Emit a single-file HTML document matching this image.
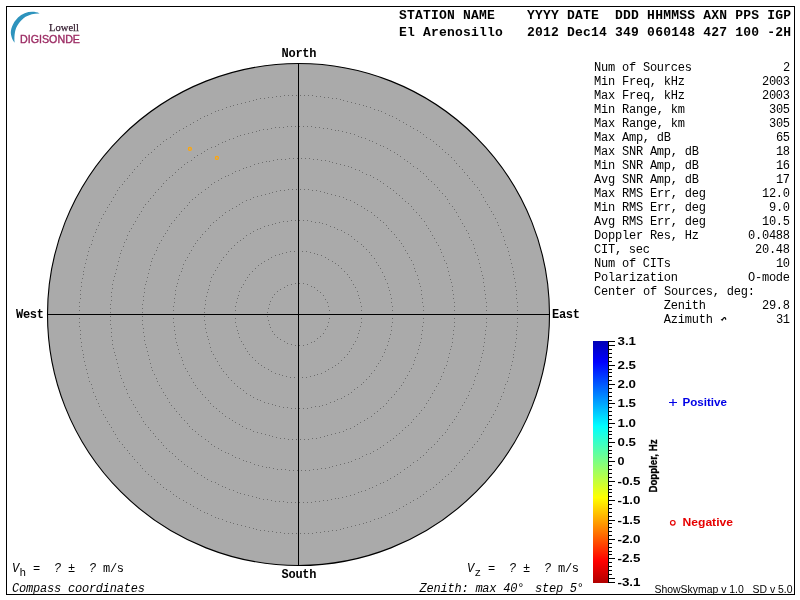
<!DOCTYPE html>
<html><head><meta charset="utf-8"><title>Skymap</title>
<style>
html,body{margin:0;padding:0;background:#fff;}
body{width:800px;height:600px;overflow:hidden;position:relative;}
svg{position:absolute;left:0;top:0;display:block;will-change:transform;}
text{white-space:pre;}
.m{font-family:"Liberation Mono",monospace;font-size:12px;fill:#000;}
.mb{font-family:"Liberation Mono",monospace;font-size:12px;font-weight:bold;fill:#000;}
.mi{font-family:"Liberation Mono",monospace;font-size:12px;font-style:italic;fill:#000;}
.h{font-family:"Liberation Mono",monospace;font-size:13px;font-weight:bold;fill:#000;}
.s{font-family:"Liberation Sans",sans-serif;font-size:10px;fill:#000;}
.sb{font-family:"Liberation Sans",sans-serif;font-size:10.5px;font-weight:bold;fill:#000;}
</style></head><body>
<svg width="800" height="600" viewBox="0 0 800 600">
<defs>
<linearGradient id="jet" x1="0" y1="0" x2="0" y2="1">
<stop offset="0" stop-color="#0000b4"/>
<stop offset="0.087" stop-color="#0000ff"/>
<stop offset="0.352" stop-color="#00ffff"/>
<stop offset="0.502" stop-color="#80ff80"/>
<stop offset="0.647" stop-color="#ffff00"/>
<stop offset="0.78" stop-color="#ff8000"/>
<stop offset="0.909" stop-color="#ff0000"/>
<stop offset="1" stop-color="#b00000"/>
</linearGradient>
</defs>
<rect x="0" y="0" width="800" height="600" fill="#fff"/>
<!-- frame -->
<rect x="6.5" y="6.5" width="788" height="588" fill="none" stroke="#000" stroke-width="1" shape-rendering="crispEdges"/>

<circle cx="298.5" cy="314.5" r="251.0" fill="#aaaaaa" stroke="#000" stroke-width="1.1"/>
<path d="M329 314.5h1M329 310.5h1M328 306.5h1M327 302.5h1M325 299.5h1M323 295.5h1M320 292.5h1M317 290.5h1M314 287.5h1M311 286.5h1M307 284.5h1M303 283.5h1M299 283.5h1M295 283.5h1M291 284.5h1M287 285.5h1M284 287.5h1M280 289.5h1M277 291.5h1M274 294.5h1M272 297.5h1M270 301.5h1M269 304.5h1M268 308.5h1M267 312.5h1M267 316.5h1M268 320.5h1M269 324.5h1M270 327.5h1M272 331.5h1M274 334.5h1M277 337.5h1M280 339.5h1M284 341.5h1M287 343.5h1M291 344.5h1M295 345.5h1M299 345.5h1M303 345.5h1M307 344.5h1M311 342.5h1M314 341.5h1M317 338.5h1M320 336.5h1M323 333.5h1M325 329.5h1M327 326.5h1M328 322.5h1M329 318.5h1M361 314.5h1M361 310.5h1M361 306.5h1M360 302.5h1M359 298.5h1M358 295.5h1M357 291.5h1M355 287.5h1M353 284.5h1M351 280.5h1M349 277.5h1M347 274.5h1M344 271.5h1M341 268.5h1M338 265.5h1M335 263.5h1M332 261.5h1M328 259.5h1M325 257.5h1M321 255.5h1M317 254.5h1M314 253.5h1M310 252.5h1M306 251.5h1M302 251.5h1M298 251.5h1M294 251.5h1M290 251.5h1M286 252.5h1M282 253.5h1M279 254.5h1M275 255.5h1M271 257.5h1M268 259.5h1M264 261.5h1M261 263.5h1M258 265.5h1M255 268.5h1M252 271.5h1M249 274.5h1M247 277.5h1M245 280.5h1M243 284.5h1M241 287.5h1M239 291.5h1M238 295.5h1M237 298.5h1M236 302.5h1M235 306.5h1M235 310.5h1M235 314.5h1M235 318.5h1M235 322.5h1M236 326.5h1M237 330.5h1M238 333.5h1M239 337.5h1M241 341.5h1M243 344.5h1M245 348.5h1M247 351.5h1M249 354.5h1M252 357.5h1M255 360.5h1M258 363.5h1M261 365.5h1M264 367.5h1M268 369.5h1M271 371.5h1M275 373.5h1M279 374.5h1M282 375.5h1M286 376.5h1M290 377.5h1M294 377.5h1M298 377.5h1M302 377.5h1M306 377.5h1M310 376.5h1M314 375.5h1M317 374.5h1M321 373.5h1M325 371.5h1M328 369.5h1M332 367.5h1M335 365.5h1M338 363.5h1M341 360.5h1M344 357.5h1M347 354.5h1M349 351.5h1M351 348.5h1M353 344.5h1M355 341.5h1M357 337.5h1M358 333.5h1M359 330.5h1M360 326.5h1M361 322.5h1M361 318.5h1M392 314.5h1M392 310.5h1M392 306.5h1M391 302.5h1M391 298.5h1M390 294.5h1M389 290.5h1M388 287.5h1M387 283.5h1M385 279.5h1M384 276.5h1M382 272.5h1M380 268.5h1M378 265.5h1M376 262.5h1M374 258.5h1M371 255.5h1M369 252.5h1M366 249.5h1M363 246.5h1M361 244.5h1M357 241.5h1M354 239.5h1M351 236.5h1M348 234.5h1M344 232.5h1M341 230.5h1M337 229.5h1M334 227.5h1M330 226.5h1M326 224.5h1M322 223.5h1M319 222.5h1M315 222.5h1M311 221.5h1M307 220.5h1M303 220.5h1M299 220.5h1M295 220.5h1M291 220.5h1M287 221.5h1M283 221.5h1M279 222.5h1M275 223.5h1M272 224.5h1M268 225.5h1M264 226.5h1M260 228.5h1M257 229.5h1M253 231.5h1M250 233.5h1M246 235.5h1M243 238.5h1M240 240.5h1M237 242.5h1M234 245.5h1M231 248.5h1M228 251.5h1M226 254.5h1M223 257.5h1M221 260.5h1M219 263.5h1M217 267.5h1M215 270.5h1M213 274.5h1M211 277.5h1M210 281.5h1M209 285.5h1M208 289.5h1M207 292.5h1M206 296.5h1M205 300.5h1M205 304.5h1M204 308.5h1M204 312.5h1M204 316.5h1M204 320.5h1M205 324.5h1M205 328.5h1M206 332.5h1M207 336.5h1M208 339.5h1M209 343.5h1M210 347.5h1M211 351.5h1M213 354.5h1M215 358.5h1M217 361.5h1M219 365.5h1M221 368.5h1M223 371.5h1M226 374.5h1M228 377.5h1M231 380.5h1M234 383.5h1M237 386.5h1M240 388.5h1M243 390.5h1M246 393.5h1M250 395.5h1M253 397.5h1M257 399.5h1M260 400.5h1M264 402.5h1M268 403.5h1M272 404.5h1M275 405.5h1M279 406.5h1M283 407.5h1M287 407.5h1M291 408.5h1M295 408.5h1M299 408.5h1M303 408.5h1M307 408.5h1M311 407.5h1M315 406.5h1M319 406.5h1M322 405.5h1M326 404.5h1M330 402.5h1M334 401.5h1M337 399.5h1M341 398.5h1M344 396.5h1M348 394.5h1M351 392.5h1M354 389.5h1M357 387.5h1M361 384.5h1M363 382.5h1M366 379.5h1M369 376.5h1M371 373.5h1M374 370.5h1M376 366.5h1M378 363.5h1M380 360.5h1M382 356.5h1M384 352.5h1M385 349.5h1M387 345.5h1M388 341.5h1M389 338.5h1M390 334.5h1M391 330.5h1M391 326.5h1M392 322.5h1M392 318.5h1M423 314.5h1M423 310.5h1M423 306.5h1M422 302.5h1M422 298.5h1M421 294.5h1M421 290.5h1M420 286.5h1M419 283.5h1M418 279.5h1M417 275.5h1M415 271.5h1M414 268.5h1M413 264.5h1M411 260.5h1M409 257.5h1M407 253.5h1M405 250.5h1M403 246.5h1M401 243.5h1M399 240.5h1M396 237.5h1M394 234.5h1M391 231.5h1M388 228.5h1M386 225.5h1M383 222.5h1M380 220.5h1M377 217.5h1M374 215.5h1M371 212.5h1M367 210.5h1M364 208.5h1M361 206.5h1M357 204.5h1M354 202.5h1M350 200.5h1M346 199.5h1M343 197.5h1M339 196.5h1M335 195.5h1M331 194.5h1M327 193.5h1M324 192.5h1M320 191.5h1M316 190.5h1M312 190.5h1M308 189.5h1M304 189.5h1M300 189.5h1M296 189.5h1M292 189.5h1M288 189.5h1M284 190.5h1M280 190.5h1M276 191.5h1M272 192.5h1M269 193.5h1M265 194.5h1M261 195.5h1M257 196.5h1M253 197.5h1M250 199.5h1M246 200.5h1M242 202.5h1M239 204.5h1M236 206.5h1M232 208.5h1M229 210.5h1M225 212.5h1M222 215.5h1M219 217.5h1M216 220.5h1M213 222.5h1M210 225.5h1M208 228.5h1M205 231.5h1M202 234.5h1M200 237.5h1M197 240.5h1M195 243.5h1M193 246.5h1M191 250.5h1M189 253.5h1M187 257.5h1M185 260.5h1M183 264.5h1M182 268.5h1M181 271.5h1M179 275.5h1M178 279.5h1M177 283.5h1M176 286.5h1M175 290.5h1M175 294.5h1M174 298.5h1M174 302.5h1M173 306.5h1M173 310.5h1M173 314.5h1M173 318.5h1M173 322.5h1M174 326.5h1M174 330.5h1M175 334.5h1M175 338.5h1M176 342.5h1M177 345.5h1M178 349.5h1M179 353.5h1M181 357.5h1M182 360.5h1M183 364.5h1M185 368.5h1M187 371.5h1M189 375.5h1M191 378.5h1M193 382.5h1M195 385.5h1M197 388.5h1M200 391.5h1M202 394.5h1M205 397.5h1M208 400.5h1M210 403.5h1M213 406.5h1M216 408.5h1M219 411.5h1M222 413.5h1M225 416.5h1M229 418.5h1M232 420.5h1M235 422.5h1M239 424.5h1M242 426.5h1M246 428.5h1M250 429.5h1M253 431.5h1M257 432.5h1M261 433.5h1M265 434.5h1M269 435.5h1M272 436.5h1M276 437.5h1M280 438.5h1M284 438.5h1M288 439.5h1M292 439.5h1M296 439.5h1M300 439.5h1M304 439.5h1M308 439.5h1M312 438.5h1M316 438.5h1M320 437.5h1M324 436.5h1M327 435.5h1M331 434.5h1M335 433.5h1M339 432.5h1M343 431.5h1M346 429.5h1M350 428.5h1M354 426.5h1M357 424.5h1M360 422.5h1M364 420.5h1M367 418.5h1M371 416.5h1M374 413.5h1M377 411.5h1M380 408.5h1M383 406.5h1M386 403.5h1M388 400.5h1M391 397.5h1M394 394.5h1M396 391.5h1M399 388.5h1M401 385.5h1M403 382.5h1M405 378.5h1M407 375.5h1M409 371.5h1M411 368.5h1M413 364.5h1M414 360.5h1M415 357.5h1M417 353.5h1M418 349.5h1M419 345.5h1M420 342.5h1M421 338.5h1M421 334.5h1M422 330.5h1M422 326.5h1M423 322.5h1M423 318.5h1M454 314.5h1M454 310.5h1M454 306.5h1M454 302.5h1M453 298.5h1M453 294.5h1M452 290.5h1M452 286.5h1M451 282.5h1M450 279.5h1M449 275.5h1M448 271.5h1M447 267.5h1M446 263.5h1M444 260.5h1M443 256.5h1M441 252.5h1M440 249.5h1M438 245.5h1M436 242.5h1M434 238.5h1M432 235.5h1M430 231.5h1M428 228.5h1M426 225.5h1M424 221.5h1M421 218.5h1M419 215.5h1M416 212.5h1M413 209.5h1M411 206.5h1M408 203.5h1M405 201.5h1M402 198.5h1M399 195.5h1M396 193.5h1M393 190.5h1M390 188.5h1M387 186.5h1M383 183.5h1M380 181.5h1M377 179.5h1M373 177.5h1M370 175.5h1M366 174.5h1M362 172.5h1M359 170.5h1M355 169.5h1M351 167.5h1M348 166.5h1M344 165.5h1M340 164.5h1M336 163.5h1M332 162.5h1M329 161.5h1M325 160.5h1M321 160.5h1M317 159.5h1M313 159.5h1M309 158.5h1M305 158.5h1M301 158.5h1M297 158.5h1M293 158.5h1M289 158.5h1M285 159.5h1M281 159.5h1M277 159.5h1M273 160.5h1M269 161.5h1M266 161.5h1M262 162.5h1M258 163.5h1M254 164.5h1M250 166.5h1M246 167.5h1M243 168.5h1M239 170.5h1M235 171.5h1M232 173.5h1M228 175.5h1M225 176.5h1M221 178.5h1M218 180.5h1M214 182.5h1M211 184.5h1M208 187.5h1M205 189.5h1M201 192.5h1M198 194.5h1M195 197.5h1M192 199.5h1M189 202.5h1M187 205.5h1M184 208.5h1M181 211.5h1M179 214.5h1M176 217.5h1M174 220.5h1M171 223.5h1M169 226.5h1M167 230.5h1M165 233.5h1M163 236.5h1M161 240.5h1M159 243.5h1M157 247.5h1M156 250.5h1M154 254.5h1M152 258.5h1M151 261.5h1M150 265.5h1M149 269.5h1M148 273.5h1M147 277.5h1M146 281.5h1M145 284.5h1M144 288.5h1M144 292.5h1M143 296.5h1M143 300.5h1M142 304.5h1M142 308.5h1M142 312.5h1M142 316.5h1M142 320.5h1M142 324.5h1M143 328.5h1M143 332.5h1M144 336.5h1M144 340.5h1M145 344.5h1M146 347.5h1M147 351.5h1M148 355.5h1M149 359.5h1M150 363.5h1M151 367.5h1M152 370.5h1M154 374.5h1M156 378.5h1M157 381.5h1M159 385.5h1M161 388.5h1M163 392.5h1M165 395.5h1M167 398.5h1M169 402.5h1M171 405.5h1M174 408.5h1M176 411.5h1M179 414.5h1M181 417.5h1M184 420.5h1M187 423.5h1M189 426.5h1M192 429.5h1M195 431.5h1M198 434.5h1M201 436.5h1M205 439.5h1M208 441.5h1M211 444.5h1M214 446.5h1M218 448.5h1M221 450.5h1M225 452.5h1M228 453.5h1M232 455.5h1M235 457.5h1M239 458.5h1M243 460.5h1M246 461.5h1M250 462.5h1M254 464.5h1M258 465.5h1M262 466.5h1M266 467.5h1M269 467.5h1M273 468.5h1M277 469.5h1M281 469.5h1M285 469.5h1M289 470.5h1M293 470.5h1M297 470.5h1M301 470.5h1M305 470.5h1M309 470.5h1M313 469.5h1M317 469.5h1M321 468.5h1M325 468.5h1M329 467.5h1M332 466.5h1M336 465.5h1M340 464.5h1M344 463.5h1M348 462.5h1M351 461.5h1M355 459.5h1M359 458.5h1M362 456.5h1M366 454.5h1M370 453.5h1M373 451.5h1M377 449.5h1M380 447.5h1M383 445.5h1M387 442.5h1M390 440.5h1M393 438.5h1M396 435.5h1M399 433.5h1M402 430.5h1M405 427.5h1M408 425.5h1M411 422.5h1M413 419.5h1M416 416.5h1M419 413.5h1M421 410.5h1M424 407.5h1M426 403.5h1M428 400.5h1M430 397.5h1M432 393.5h1M434 390.5h1M436 386.5h1M438 383.5h1M440 379.5h1M441 376.5h1M443 372.5h1M444 368.5h1M446 365.5h1M447 361.5h1M448 357.5h1M449 353.5h1M450 349.5h1M451 346.5h1M452 342.5h1M452 338.5h1M453 334.5h1M453 330.5h1M454 326.5h1M454 322.5h1M454 318.5h1M486 314.5h1M486 310.5h1M486 306.5h1M486 302.5h1M485 298.5h1M485 294.5h1M484 290.5h1M484 286.5h1M483 282.5h1M483 278.5h1M482 275.5h1M481 271.5h1M480 267.5h1M479 263.5h1M478 259.5h1M477 255.5h1M475 252.5h1M474 248.5h1M473 244.5h1M471 240.5h1M469 237.5h1M468 233.5h1M466 230.5h1M464 226.5h1M462 223.5h1M460 219.5h1M458 216.5h1M456 212.5h1M454 209.5h1M452 206.5h1M449 203.5h1M447 199.5h1M445 196.5h1M442 193.5h1M439 190.5h1M437 187.5h1M434 184.5h1M431 181.5h1M428 179.5h1M426 176.5h1M423 173.5h1M420 171.5h1M417 168.5h1M413 166.5h1M410 163.5h1M407 161.5h1M404 159.5h1M400 156.5h1M397 154.5h1M394 152.5h1M390 150.5h1M387 148.5h1M383 146.5h1M380 145.5h1M376 143.5h1M372 141.5h1M369 140.5h1M365 138.5h1M361 137.5h1M358 136.5h1M354 134.5h1M350 133.5h1M346 132.5h1M342 131.5h1M338 130.5h1M335 130.5h1M331 129.5h1M327 128.5h1M323 128.5h1M319 127.5h1M315 127.5h1M311 126.5h1M307 126.5h1M303 126.5h1M299 126.5h1M295 126.5h1M291 126.5h1M287 126.5h1M283 127.5h1M279 127.5h1M275 127.5h1M271 128.5h1M267 129.5h1M263 129.5h1M259 130.5h1M256 131.5h1M252 132.5h1M248 133.5h1M244 134.5h1M240 135.5h1M237 136.5h1M233 138.5h1M229 139.5h1M225 141.5h1M222 142.5h1M218 144.5h1M215 146.5h1M211 147.5h1M207 149.5h1M204 151.5h1M201 153.5h1M197 155.5h1M194 157.5h1M191 160.5h1M187 162.5h1M184 164.5h1M181 167.5h1M178 169.5h1M175 172.5h1M172 175.5h1M169 177.5h1M166 180.5h1M163 183.5h1M161 186.5h1M158 189.5h1M155 192.5h1M153 195.5h1M150 198.5h1M148 201.5h1M145 204.5h1M143 207.5h1M141 211.5h1M139 214.5h1M137 217.5h1M135 221.5h1M133 224.5h1M131 228.5h1M129 231.5h1M127 235.5h1M126 239.5h1M124 242.5h1M123 246.5h1M121 250.5h1M120 253.5h1M119 257.5h1M118 261.5h1M117 265.5h1M116 269.5h1M115 273.5h1M114 276.5h1M113 280.5h1M112 284.5h1M112 288.5h1M111 292.5h1M111 296.5h1M111 300.5h1M110 304.5h1M110 308.5h1M110 312.5h1M110 316.5h1M110 320.5h1M110 324.5h1M111 328.5h1M111 332.5h1M111 336.5h1M112 340.5h1M112 344.5h1M113 348.5h1M114 352.5h1M115 355.5h1M116 359.5h1M117 363.5h1M118 367.5h1M119 371.5h1M120 375.5h1M121 378.5h1M123 382.5h1M124 386.5h1M126 389.5h1M127 393.5h1M129 397.5h1M131 400.5h1M133 404.5h1M135 407.5h1M137 411.5h1M139 414.5h1M141 417.5h1M143 421.5h1M145 424.5h1M148 427.5h1M150 430.5h1M153 433.5h1M155 436.5h1M158 439.5h1M161 442.5h1M163 445.5h1M166 448.5h1M169 451.5h1M172 453.5h1M175 456.5h1M178 459.5h1M181 461.5h1M184 464.5h1M187 466.5h1M191 468.5h1M194 471.5h1M197 473.5h1M201 475.5h1M204 477.5h1M207 479.5h1M211 481.5h1M215 482.5h1M218 484.5h1M222 486.5h1M225 487.5h1M229 489.5h1M233 490.5h1M237 492.5h1M240 493.5h1M244 494.5h1M248 495.5h1M252 496.5h1M256 497.5h1M259 498.5h1M263 499.5h1M267 499.5h1M271 500.5h1M275 501.5h1M279 501.5h1M283 501.5h1M287 502.5h1M291 502.5h1M295 502.5h1M299 502.5h1M303 502.5h1M307 502.5h1M311 502.5h1M315 501.5h1M319 501.5h1M323 500.5h1M327 500.5h1M331 499.5h1M335 498.5h1M338 498.5h1M342 497.5h1M346 496.5h1M350 495.5h1M354 494.5h1M358 492.5h1M361 491.5h1M365 490.5h1M369 488.5h1M372 487.5h1M376 485.5h1M380 483.5h1M383 482.5h1M387 480.5h1M390 478.5h1M394 476.5h1M397 474.5h1M400 472.5h1M404 469.5h1M407 467.5h1M410 465.5h1M413 462.5h1M417 460.5h1M420 457.5h1M423 455.5h1M426 452.5h1M428 449.5h1M431 447.5h1M434 444.5h1M437 441.5h1M439 438.5h1M442 435.5h1M445 432.5h1M447 429.5h1M449 425.5h1M452 422.5h1M454 419.5h1M456 416.5h1M458 412.5h1M460 409.5h1M462 405.5h1M464 402.5h1M466 398.5h1M468 395.5h1M469 391.5h1M471 388.5h1M473 384.5h1M474 380.5h1M475 376.5h1M477 373.5h1M478 369.5h1M479 365.5h1M480 361.5h1M481 357.5h1M482 353.5h1M483 350.5h1M483 346.5h1M484 342.5h1M484 338.5h1M485 334.5h1M485 330.5h1M486 326.5h1M486 322.5h1M486 318.5h1M517 314.5h1M517 310.5h1M517 306.5h1M517 302.5h1M516 298.5h1M516 294.5h1M516 290.5h1M515 286.5h1M515 282.5h1M514 278.5h1M513 274.5h1M513 271.5h1M512 267.5h1M511 263.5h1M510 259.5h1M509 255.5h1M508 251.5h1M507 247.5h1M505 244.5h1M504 240.5h1M503 236.5h1M501 232.5h1M500 229.5h1M498 225.5h1M497 222.5h1M495 218.5h1M493 214.5h1M491 211.5h1M489 207.5h1M487 204.5h1M485 201.5h1M483 197.5h1M481 194.5h1M479 190.5h1M477 187.5h1M474 184.5h1M472 181.5h1M469 178.5h1M467 175.5h1M464 172.5h1M462 169.5h1M459 166.5h1M456 163.5h1M454 160.5h1M451 157.5h1M448 154.5h1M445 152.5h1M442 149.5h1M439 146.5h1M436 144.5h1M433 141.5h1M430 139.5h1M426 137.5h1M423 134.5h1M420 132.5h1M417 130.5h1M413 128.5h1M410 126.5h1M406 124.5h1M403 122.5h1M399 120.5h1M396 118.5h1M392 116.5h1M389 115.5h1M385 113.5h1M381 111.5h1M378 110.5h1M374 109.5h1M370 107.5h1M366 106.5h1M363 105.5h1M359 104.5h1M355 103.5h1M351 102.5h1M347 101.5h1M343 100.5h1M340 99.5h1M336 98.5h1M332 98.5h1M328 97.5h1M324 97.5h1M320 96.5h1M316 96.5h1M312 95.5h1M308 95.5h1M304 95.5h1M300 95.5h1M296 95.5h1M292 95.5h1M288 95.5h1M284 95.5h1M280 96.5h1M276 96.5h1M272 97.5h1M268 97.5h1M264 98.5h1M260 98.5h1M256 99.5h1M253 100.5h1M249 101.5h1M245 102.5h1M241 103.5h1M237 104.5h1M233 105.5h1M230 106.5h1M226 107.5h1M222 109.5h1M218 110.5h1M215 111.5h1M211 113.5h1M207 115.5h1M204 116.5h1M200 118.5h1M197 120.5h1M193 122.5h1M190 124.5h1M186 126.5h1M183 128.5h1M179 130.5h1M176 132.5h1M173 134.5h1M170 137.5h1M166 139.5h1M163 141.5h1M160 144.5h1M157 146.5h1M154 149.5h1M151 152.5h1M148 154.5h1M145 157.5h1M142 160.5h1M140 163.5h1M137 166.5h1M134 169.5h1M132 172.5h1M129 175.5h1M127 178.5h1M124 181.5h1M122 184.5h1M119 187.5h1M117 190.5h1M115 194.5h1M113 197.5h1M111 201.5h1M109 204.5h1M107 207.5h1M105 211.5h1M103 214.5h1M101 218.5h1M99 222.5h1M98 225.5h1M96 229.5h1M95 232.5h1M93 236.5h1M92 240.5h1M91 244.5h1M89 247.5h1M88 251.5h1M87 255.5h1M86 259.5h1M85 263.5h1M84 267.5h1M83 271.5h1M83 274.5h1M82 278.5h1M81 282.5h1M81 286.5h1M80 290.5h1M80 294.5h1M80 298.5h1M79 302.5h1M79 306.5h1M79 310.5h1M79 314.5h1M79 318.5h1M79 322.5h1M79 326.5h1M80 330.5h1M80 334.5h1M80 338.5h1M81 342.5h1M81 346.5h1M82 350.5h1M83 354.5h1M83 357.5h1M84 361.5h1M85 365.5h1M86 369.5h1M87 373.5h1M88 377.5h1M89 381.5h1M91 384.5h1M92 388.5h1M93 392.5h1M95 396.5h1M96 399.5h1M98 403.5h1M99 406.5h1M101 410.5h1M103 414.5h1M105 417.5h1M107 421.5h1M109 424.5h1M111 427.5h1M113 431.5h1M115 434.5h1M117 438.5h1M119 441.5h1M122 444.5h1M124 447.5h1M127 450.5h1M129 453.5h1M132 456.5h1M134 459.5h1M137 462.5h1M140 465.5h1M142 468.5h1M145 471.5h1M148 474.5h1M151 476.5h1M154 479.5h1M157 482.5h1M160 484.5h1M163 487.5h1M166 489.5h1M170 491.5h1M173 494.5h1M176 496.5h1M179 498.5h1M183 500.5h1M186 502.5h1M190 504.5h1M193 506.5h1M197 508.5h1M200 510.5h1M204 512.5h1M207 513.5h1M211 515.5h1M215 517.5h1M218 518.5h1M222 519.5h1M226 521.5h1M230 522.5h1M233 523.5h1M237 524.5h1M241 525.5h1M245 526.5h1M249 527.5h1M253 528.5h1M256 529.5h1M260 530.5h1M264 530.5h1M268 531.5h1M272 531.5h1M276 532.5h1M280 532.5h1M284 533.5h1M288 533.5h1M292 533.5h1M296 533.5h1M300 533.5h1M304 533.5h1M308 533.5h1M312 533.5h1M316 532.5h1M320 532.5h1M324 531.5h1M328 531.5h1M332 530.5h1M336 530.5h1M340 529.5h1M343 528.5h1M347 527.5h1M351 526.5h1M355 525.5h1M359 524.5h1M363 523.5h1M366 522.5h1M370 521.5h1M374 519.5h1M378 518.5h1M381 517.5h1M385 515.5h1M389 513.5h1M392 512.5h1M396 510.5h1M399 508.5h1M403 506.5h1M406 504.5h1M410 502.5h1M413 500.5h1M417 498.5h1M420 496.5h1M423 494.5h1M426 491.5h1M430 489.5h1M433 487.5h1M436 484.5h1M439 482.5h1M442 479.5h1M445 476.5h1M448 474.5h1M451 471.5h1M454 468.5h1M456 465.5h1M459 462.5h1M462 459.5h1M464 456.5h1M467 453.5h1M469 450.5h1M472 447.5h1M474 444.5h1M477 441.5h1M479 438.5h1M481 434.5h1M483 431.5h1M485 427.5h1M487 424.5h1M489 421.5h1M491 417.5h1M493 414.5h1M495 410.5h1M497 406.5h1M498 403.5h1M500 399.5h1M501 396.5h1M503 392.5h1M504 388.5h1M505 384.5h1M507 381.5h1M508 377.5h1M509 373.5h1M510 369.5h1M511 365.5h1M512 361.5h1M513 357.5h1M513 354.5h1M514 350.5h1M515 346.5h1M515 342.5h1M516 338.5h1M516 334.5h1M516 330.5h1M517 326.5h1M517 322.5h1M517 318.5h1" stroke="#6e6e6e" stroke-width="1" fill="none" shape-rendering="crispEdges"/>
<line x1="298.5" y1="63.5" x2="298.5" y2="565.5" stroke="#000" stroke-width="1" shape-rendering="crispEdges"/>
<line x1="47.5" y1="314.5" x2="549.5" y2="314.5" stroke="#000" stroke-width="1" shape-rendering="crispEdges"/>
<circle cx="189.9" cy="148.9" r="1.5" fill="none" stroke="#ffa60a" stroke-width="1.3"/>
<circle cx="216.9" cy="157.9" r="1.5" fill="none" stroke="#ffa60a" stroke-width="1.3"/>
<text class="mb" x="281.5" y="57" textLength="35.0" lengthAdjust="spacing">North</text>
<text class="mb" x="281.5" y="578" textLength="35.0" lengthAdjust="spacing">South</text>
<text class="mb" x="16" y="318" textLength="28.0" lengthAdjust="spacing">West</text>
<text class="mb" x="552" y="318" textLength="28.0" lengthAdjust="spacing">East</text>
<text class="h" x="399" y="19" textLength="392.0" lengthAdjust="spacing">STATION NAME    YYYY DATE  DDD HHMMSS AXN PPS IGP</text>
<text class="h" x="399" y="36" textLength="392.0" lengthAdjust="spacing">El Arenosillo   2012 Dec14 349 060148 427 100 -2H</text>
<text class="m" x="594" y="71" textLength="98.0" lengthAdjust="spacing">Num of Sources</text>
<text class="m" x="783.0" y="71" textLength="7.0" lengthAdjust="spacing">2</text>
<text class="m" x="594" y="85" textLength="91.0" lengthAdjust="spacing">Min Freq, kHz</text>
<text class="m" x="762.0" y="85" textLength="28.0" lengthAdjust="spacing">2003</text>
<text class="m" x="594" y="99" textLength="91.0" lengthAdjust="spacing">Max Freq, kHz</text>
<text class="m" x="762.0" y="99" textLength="28.0" lengthAdjust="spacing">2003</text>
<text class="m" x="594" y="113" textLength="91.0" lengthAdjust="spacing">Min Range, km</text>
<text class="m" x="769.0" y="113" textLength="21.0" lengthAdjust="spacing">305</text>
<text class="m" x="594" y="127" textLength="91.0" lengthAdjust="spacing">Max Range, km</text>
<text class="m" x="769.0" y="127" textLength="21.0" lengthAdjust="spacing">305</text>
<text class="m" x="594" y="141" textLength="77.0" lengthAdjust="spacing">Max Amp, dB</text>
<text class="m" x="776.0" y="141" textLength="14.0" lengthAdjust="spacing">65</text>
<text class="m" x="594" y="155" textLength="105.0" lengthAdjust="spacing">Max SNR Amp, dB</text>
<text class="m" x="776.0" y="155" textLength="14.0" lengthAdjust="spacing">18</text>
<text class="m" x="594" y="169" textLength="105.0" lengthAdjust="spacing">Min SNR Amp, dB</text>
<text class="m" x="776.0" y="169" textLength="14.0" lengthAdjust="spacing">16</text>
<text class="m" x="594" y="183" textLength="105.0" lengthAdjust="spacing">Avg SNR Amp, dB</text>
<text class="m" x="776.0" y="183" textLength="14.0" lengthAdjust="spacing">17</text>
<text class="m" x="594" y="197" textLength="112.0" lengthAdjust="spacing">Max RMS Err, deg</text>
<text class="m" x="762.0" y="197" textLength="28.0" lengthAdjust="spacing">12.0</text>
<text class="m" x="594" y="211" textLength="112.0" lengthAdjust="spacing">Min RMS Err, deg</text>
<text class="m" x="769.0" y="211" textLength="21.0" lengthAdjust="spacing">9.0</text>
<text class="m" x="594" y="225" textLength="112.0" lengthAdjust="spacing">Avg RMS Err, deg</text>
<text class="m" x="762.0" y="225" textLength="28.0" lengthAdjust="spacing">10.5</text>
<text class="m" x="594" y="239" textLength="105.0" lengthAdjust="spacing">Doppler Res, Hz</text>
<text class="m" x="748.0" y="239" textLength="42.0" lengthAdjust="spacing">0.0488</text>
<text class="m" x="594" y="253" textLength="56.0" lengthAdjust="spacing">CIT, sec</text>
<text class="m" x="755.0" y="253" textLength="35.0" lengthAdjust="spacing">20.48</text>
<text class="m" x="594" y="267" textLength="77.0" lengthAdjust="spacing">Num of CITs</text>
<text class="m" x="776.0" y="267" textLength="14.0" lengthAdjust="spacing">10</text>
<text class="m" x="594" y="281" textLength="84.0" lengthAdjust="spacing">Polarization</text>
<text class="m" x="748.0" y="281" textLength="42.0" lengthAdjust="spacing">O-mode</text>
<text class="m" x="594" y="295" textLength="161.0" lengthAdjust="spacing">Center of Sources, deg:</text>
<text class="m" x="594" y="309" textLength="112.0" lengthAdjust="spacing">          Zenith</text>
<text class="m" x="762.0" y="309" textLength="28.0" lengthAdjust="spacing">29.8</text>
<text class="m" x="594" y="323" textLength="119.0" lengthAdjust="spacing">          Azimuth</text>
<text class="m" x="776.0" y="323" textLength="14.0" lengthAdjust="spacing">31</text>
<path d="M720.6 319.2 L723.2 318.9 L722.3 321.2 Z" fill="#000"/><path d="M722.4 320 Q723.4 317.2 724.8 317.6 Q725.9 318.1 725.7 319.7" fill="none" stroke="#000" stroke-width="1.2"/>
<text class="m" x="12" y="572"><tspan class="mi">V</tspan></text>
<text class="m" x="19.5" y="576" style="font-size:11px">h</text>
<text class="m" x="33" y="572" textLength="7.0" lengthAdjust="spacing">=</text>
<text class="mi" x="54" y="572" textLength="7.0" lengthAdjust="spacing">?</text>
<text class="m" x="68" y="572" textLength="7.0" lengthAdjust="spacing">±</text>
<text class="mi" x="89" y="572" textLength="7.0" lengthAdjust="spacing">?</text>
<text class="m" x="103" y="572" textLength="21.0" lengthAdjust="spacing">m/s</text>
<text class="mi" x="12" y="592" textLength="133.0" lengthAdjust="spacing">Compass coordinates</text>
<text class="mi" x="467" y="572">V</text>
<text class="m" x="474.5" y="576" style="font-size:11px">z</text>
<text class="m" x="488" y="572" textLength="7.0" lengthAdjust="spacing">=</text>
<text class="mi" x="509" y="572" textLength="7.0" lengthAdjust="spacing">?</text>
<text class="m" x="523" y="572" textLength="7.0" lengthAdjust="spacing">±</text>
<text class="mi" x="544" y="572" textLength="7.0" lengthAdjust="spacing">?</text>
<text class="m" x="558" y="572" textLength="21.0" lengthAdjust="spacing">m/s</text>
<text class="mi" x="419.5" y="592" textLength="105.0" lengthAdjust="spacing">Zenith: max 40°</text>
<text class="mi" x="535" y="592" textLength="49.0" lengthAdjust="spacing">step 5°</text>
<rect x="593" y="341" width="15" height="242" fill="url(#jet)"/>
<rect x="608" y="341" width="1" height="242" fill="#000" shape-rendering="crispEdges"/>
<path d="M609 341.5h6 M609 345.5h6 M609 349.5h3 M609 353.5h3 M609 357.5h3 M609 361.5h3 M609 365.5h6 M609 369.5h3 M609 372.5h3 M609 376.5h3 M609 380.5h3 M609 384.5h6 M609 388.5h3 M609 392.5h3 M609 396.5h3 M609 400.5h3 M609 403.5h6 M609 407.5h3 M609 411.5h3 M609 415.5h3 M609 419.5h3 M609 423.5h6 M609 427.5h3 M609 431.5h3 M609 434.5h3 M609 438.5h3 M609 442.5h6 M609 446.5h3 M609 450.5h3 M609 453.5h3 M609 457.5h3 M609 461.5h6 M609 465.5h3 M609 469.5h3 M609 473.5h3 M609 477.5h3 M609 481.5h6 M609 485.5h3 M609 489.5h3 M609 492.5h3 M609 496.5h3 M609 500.5h6 M609 504.5h3 M609 508.5h3 M609 512.5h3 M609 516.5h3 M609 520.5h6 M609 523.5h3 M609 527.5h3 M609 531.5h3 M609 535.5h3 M609 539.5h6 M609 543.5h3 M609 547.5h3 M609 551.5h3 M609 554.5h3 M609 558.5h6 M609 562.5h3 M609 566.5h3 M609 570.5h3 M609 574.5h3 M609 578.5h6 M609 582.5h6" stroke="#000" stroke-width="1" shape-rendering="crispEdges" fill="none"/>
<text class="sb" x="617.5" y="345" textLength="18.5" lengthAdjust="spacingAndGlyphs">3.1</text>
<text class="sb" x="617.5" y="369" textLength="18.5" lengthAdjust="spacingAndGlyphs">2.5</text>
<text class="sb" x="617.5" y="388" textLength="18.5" lengthAdjust="spacingAndGlyphs">2.0</text>
<text class="sb" x="617.5" y="407" textLength="18.5" lengthAdjust="spacingAndGlyphs">1.5</text>
<text class="sb" x="617.5" y="427" textLength="18.5" lengthAdjust="spacingAndGlyphs">1.0</text>
<text class="sb" x="617.5" y="446" textLength="18.5" lengthAdjust="spacingAndGlyphs">0.5</text>
<text class="sb" x="617.5" y="465" textLength="7" lengthAdjust="spacingAndGlyphs">0</text>
<text class="sb" x="617.5" y="485" textLength="23" lengthAdjust="spacingAndGlyphs">-0.5</text>
<text class="sb" x="617.5" y="504" textLength="23" lengthAdjust="spacingAndGlyphs">-1.0</text>
<text class="sb" x="617.5" y="524" textLength="23" lengthAdjust="spacingAndGlyphs">-1.5</text>
<text class="sb" x="617.5" y="543" textLength="23" lengthAdjust="spacingAndGlyphs">-2.0</text>
<text class="sb" x="617.5" y="562" textLength="23" lengthAdjust="spacingAndGlyphs">-2.5</text>
<text class="sb" x="617.5" y="586" textLength="23" lengthAdjust="spacingAndGlyphs">-3.1</text>
<text class="sb" transform="translate(657,492.5) rotate(-90)" style="font-size:10px;stroke:#000;stroke-width:0.3px" textLength="53" lengthAdjust="spacingAndGlyphs">Doppler, Hz</text>
<path d="M669 402.5h8M673 399v7" stroke="#0000e6" stroke-width="1.2" fill="none"/>
<text class="sb" x="682.5" y="406" style="fill:#0000e6;font-size:10px" textLength="44.5" lengthAdjust="spacingAndGlyphs">Positive</text>
<circle cx="672.8" cy="522.8" r="2.3" fill="none" stroke="#e60000" stroke-width="1.2"/>
<text class="sb" x="682.5" y="526" style="fill:#e60000;font-size:10px" textLength="50.5" lengthAdjust="spacingAndGlyphs">Negative</text>
<text class="s" x="654.5" y="593" textLength="138" lengthAdjust="spacingAndGlyphs">ShowSkymap v 1.0   SD v 5.0</text>
<path d="M39.6 13.4 C33 10.4 24 11.8 18 17.5 C12.5 23 10 30 11.1 35 C11.7 38 12.8 40.5 14.6 42.8 C14.2 39 14.4 35 15.0 32 C16.0 26.5 20 20.6 25.6 16.8 C29.6 14.2 35 13.2 39.6 13.4 Z" fill="#2d93bd"/>
<text x="49" y="30.5" style="font-family:'Liberation Serif',serif;font-size:11px;fill:#3b2436;stroke:#3b2436;stroke-width:0.25px" textLength="30" lengthAdjust="spacingAndGlyphs">Lowell</text>
<text x="20" y="43" style="font-family:'Liberation Sans',sans-serif;font-size:10.5px;fill:#9c2c64;stroke:#9c2c64;stroke-width:0.35px" textLength="60" lengthAdjust="spacingAndGlyphs">DIGISONDE</text>
</svg></body></html>
